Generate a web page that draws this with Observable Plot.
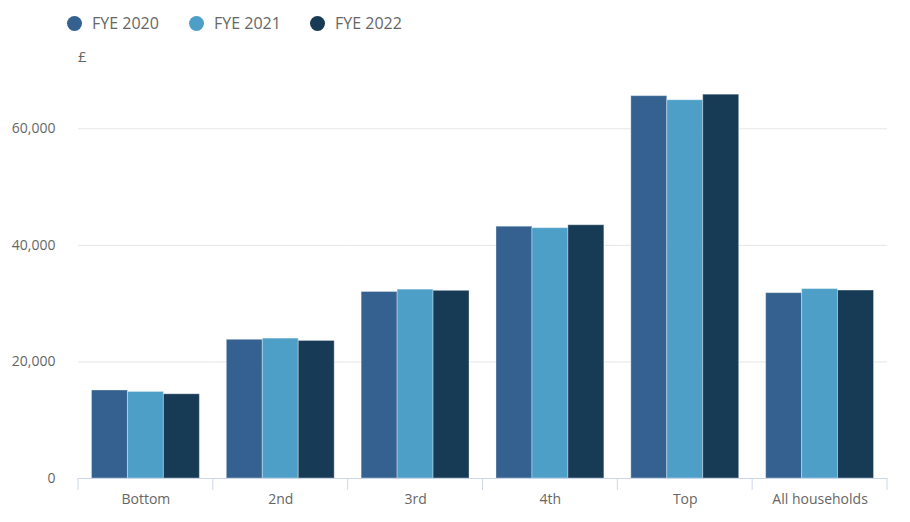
<!DOCTYPE html>
<html>
<head>
<meta charset="utf-8">
<script src="https://cdn.jsdelivr.net/npm/d3@7"></script>
<script src="https://cdn.jsdelivr.net/npm/@observablehq/plot@0.6"></script>
<style>
  body { margin: 0; background: #fff; font-family: "Open Sans", sans-serif; }
  #wrap { position: relative; width: 910px; height: 522px; }
  #header { position: relative; height: 70px; }
  .item { position: absolute; top: 12px; display: flex; align-items: center; font-size: 16px; color: #666; }
  .sw { width: 15px; height: 15px; border-radius: 50%; margin-right: 10px; }
  #unit { position: absolute; left: 78px; top: 46px; font-size: 15px; color: #666; }
</style>
</head>
<body>
<div id="wrap">
  <div id="header"></div>
  <div id="chart"></div>
</div>
<script>
const categories = ["Bottom", "2nd", "3rd", "4th", "Top", "All households"];
const seriesNames = ["FYE 2020", "FYE 2021", "FYE 2022"];
const fye2020 = [15100, 23800, 32000, 43200, 65600, 31800];
const fye2021 = [14850, 24000, 32400, 42950, 64900, 32500];
const fye2022 = [14450, 23600, 32200, 43450, 65850, 32250];
const colors = ["#34618f", "#4d9fc8", "#173a55"];
const yTicks = [0, 20000, 40000, 60000];
const unitLabel = "£";

const values = [fye2020, fye2021, fye2022];
const data = [];
categories.forEach((c, i) => seriesNames.forEach((s, j) => data.push({cat: c, series: s, value: values[j][i]})));

// Legend
const header = document.getElementById("header");
const legendLeft = [67, 189, 310];
seriesNames.forEach((s, j) => {
  const it = document.createElement("div");
  it.className = "item";
  it.style.left = legendLeft[j] + "px";
  it.innerHTML = `<span class="sw" style="background:${colors[j]}"></span><span>${s}</span>`;
  header.appendChild(it);
});
const unit = document.createElement("div");
unit.id = "unit";
unit.textContent = unitLabel;
header.appendChild(unit);

const chart = Plot.plot({
  width: 910,
  height: 452,
  marginTop: 0,
  marginLeft: 78,
  marginRight: 23,
  marginBottom: 44,
  style: {fontFamily: "Open Sans, sans-serif", fontSize: "14px", color: "#666"},
  fx: {domain: categories, padding: 0, round: false, label: null, axis: "bottom", tickSize: 0, tickPadding: 16},
  x: {domain: seriesNames, axis: null, round: false, paddingInner: 0, paddingOuter: 0.375},
  y: {domain: [0, 70000], ticks: yTicks, tickFormat: d3.format(","), tickSize: 0, tickPadding: 23, label: null},
  color: {domain: seriesNames, range: colors},
  marks: [
    Plot.gridY(yTicks.slice(1), {stroke: "#e6e6e6", strokeOpacity: 1}),
    Plot.barY(data, {fx: "cat", x: "series", y: "value", fill: "series", stroke: "#ffffff", strokeOpacity: 0.35, strokeWidth: 1}),
    Plot.ruleY([0], {stroke: "#ccd6eb"})
  ]
});
document.getElementById("chart").appendChild(chart);

// Category boundary ticks (Highcharts-style), positioned from Plot's own scales
const fxs = chart.scale("fx");
const ys = chart.scale("y");
const y0 = ys.apply(0);
const bounds = fxs.domain.map(d => fxs.apply(d));
bounds.push(fxs.apply(fxs.domain[fxs.domain.length - 1]) + fxs.bandwidth);
d3.select(chart).append("g")
  .selectAll("line").data(bounds).join("line")
  .attr("x1", d => d).attr("x2", d => d)
  .attr("y1", y0).attr("y2", y0 + 12)
  .attr("stroke", "#ccd6eb");
</script>
</body>
</html>
